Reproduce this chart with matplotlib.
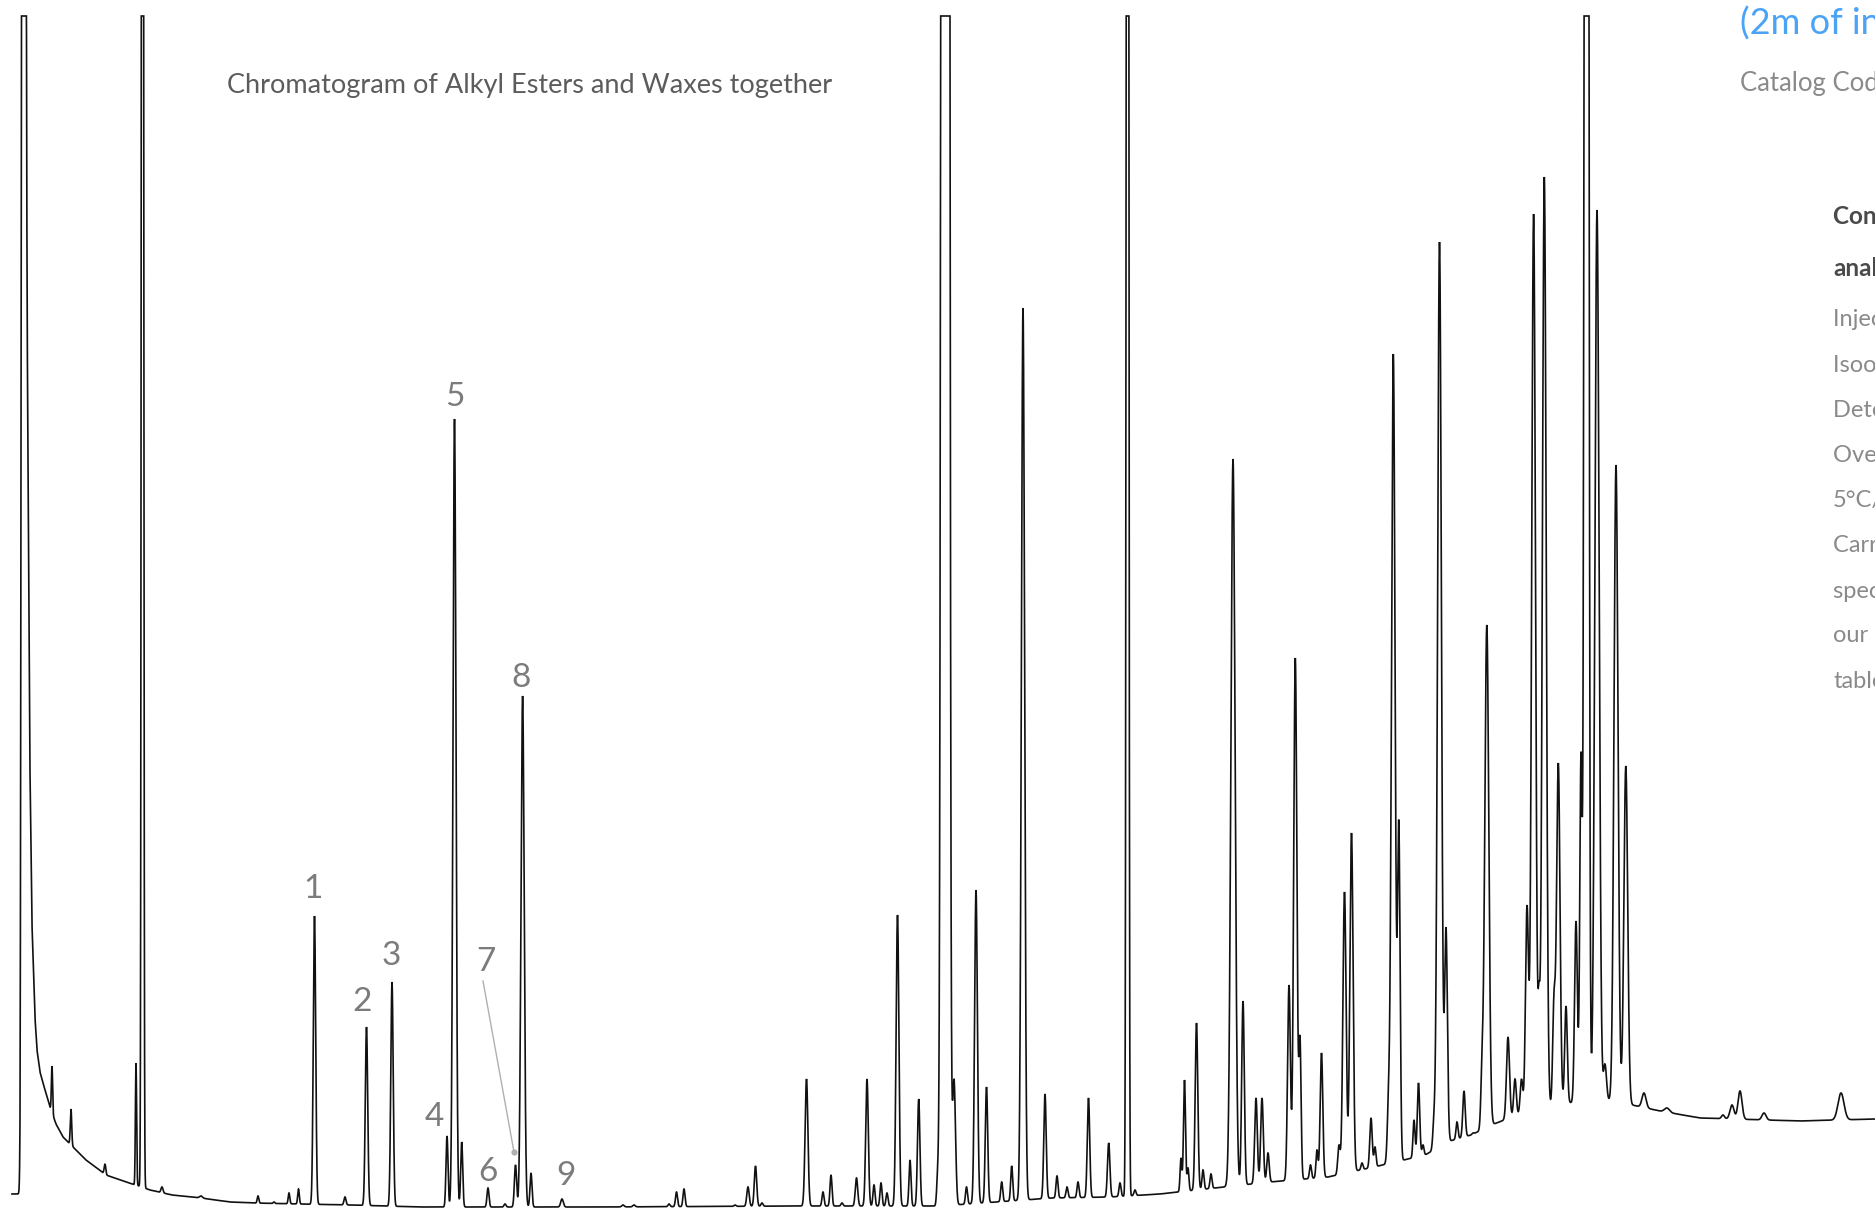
import numpy as np
import matplotlib
matplotlib.use("Agg")
import matplotlib.pyplot as plt

W, H, DPI = 1875, 1209, 100
CLIP = 1193          # detector saturation level (signal units)

# ---- baseline / background (position, signal) ----
base_x = [12, 20, 26, 28, 30, 32, 35, 37, 40, 43, 50, 56, 63, 73, 86, 106, 129, 139,
          150, 172, 201, 230, 255, 300, 350, 420, 600, 800, 940, 1052, 1110, 1160,
          1224, 1270, 1328, 1374, 1425, 1450, 1471, 1494, 1520, 1560, 1600, 1632,
          1660, 1700, 1800, 1875]
base_s = [15, 15, 1000, 746, 438, 284, 191, 159, 137, 126, 102, 85, 72, 62, 49, 34, 26, 23,
          19, 14, 11, 7, 6, 5, 4, 2, 2, 3, 3, 11, 12, 15,
          22, 27, 32, 42, 54, 68, 74, 85, 95, 105, 110, 104,
          98, 91, 88, 90]

# ---- peaks: retention position, apex signal, width ----
peak_rt = [23.5, 52, 71, 105, 136, 142.5, 162, 201, 258, 274, 289, 298.5,
           314.5, 345, 366.5, 392, 447, 454.5, 461.7, 488, 505, 515.5, 522.6, 531,
           562, 623, 634, 669, 676.5, 684, 735, 748, 755.5, 762,
           806.5, 823, 831, 842, 856.5, 867, 874, 881, 887, 897.5, 910, 918.7,
           937.7, 945.3, 954, 966.5, 976, 986.5, 1001.7, 1011.7, 1023,
           1045, 1057, 1067, 1078, 1088.5, 1108.7, 1120, 1127.5, 1135, 1143, 1151,
           1170, 1181, 1184.5, 1188, 1196.5, 1203, 1211,
           1233, 1243, 1256, 1262, 1268, 1289, 1295.3, 1300, 1310.5, 1317, 1321.5,
           1339, 1344.5, 1351.5, 1362, 1371, 1375, 1388.6, 1393.3, 1398.8,
           1414, 1418.5, 1423, 1434, 1439.5, 1446, 1457, 1464, 1473, 1482, 1486.8,
           1508, 1515, 1521.5, 1527, 1533.6, 1539, 1544.3, 1554, 1558.3, 1566,
           1576, 1581, 1586.5, 1597, 1605, 1616, 1625.8, 1644, 1667,
           1723, 1732, 1740, 1764, 1841]
peak_apex = [6000, 143, 100, 45, 146, 4000, 22, 13, 13, 7, 16, 20,
             293, 12, 182, 227, 73, 790, 67, 21, 5, 44, 513, 36,
             10, 4, 4, 5, 17, 20, 4, 22, 43, 6,
             130, 17, 34, 6, 31, 130, 24, 26, 16, 294, 49, 110,
             45, 19000, 130, 22, 319, 122, 27, 43, 901,
             115, 33, 22, 27, 111, 66, 26, 4000, 19, 14, 14,
             13, 51, 129, 41, 186, 39, 35,
             750, 208, 111, 111, 56, 224, 551, 173, 44, 59, 156,
             64, 317, 376, 46, 91, 62, 129, 855, 389,
             89, 126, 64, 99, 967, 282, 87, 118, 76, 158, 584,
             172, 130, 130, 304, 995, 228, 1032, 218, 446, 203,
             288, 457, 4800, 999, 145, 744, 443, 116, 101,
             94, 104, 118, 96, 116]
peak_w = [1.2, 0.6, 0.7, 0.8, 0.6, 0.8, 1.0, 1.5, 0.8, 0.8, 0.8, 0.8,
          1.2, 1.0, 1.2, 1.2, 1.0, 1.5, 1.0, 1.0, 1.0, 1.1, 1.6, 1.0,
          1.3, 1.2, 1.2, 1.0, 1.0, 1.0, 1.0, 1.2, 1.2, 1.0,
          1.4, 1.0, 1.0, 1.0, 1.2, 1.3, 1.0, 1.0, 1.0, 1.4, 1.0, 1.2,
          1.0, 2.0, 1.5, 1.0, 1.4, 1.2, 1.0, 1.0, 1.6,
          1.2, 1.0, 1.0, 1.0, 1.2, 1.2, 1.0, 0.9, 1.0, 1.0, 1.0,
          1.0, 0.9, 1.0, 0.9, 1.3, 1.0, 1.0,
          2.1, 1.3, 1.3, 1.3, 1.2, 1.4, 1.6, 1.1, 1.0, 1.0, 1.3,
          1.2, 1.6, 1.6, 1.0, 1.2, 1.0, 1.3, 1.8, 1.3,
          1.0, 1.2, 1.0, 1.2, 1.9, 1.4, 1.0, 1.2, 1.0, 1.2, 2.0,
          1.5, 1.3, 1.3, 1.5, 1.9, 1.0, 1.9, 1.3, 1.7, 1.3,
          1.4, 1.2, 1.5, 2.1, 1.5, 2.0, 1.9, 2.0, 2.5,
          1.5, 2.0, 2.0, 2.0, 3.0]

# ---- annotations ----
label_text = ["1", "2", "3", "4", "5", "6", "7", "8", "9"]
label_x = [313, 362, 391, 434, 454.5, 488, 486, 521.5, 566]
label_ybase = [898, 1011, 965, 1126, 406, 1181, 971, 687, 1185]   # from top, px

title = "Chromatogram of Alkyl Esters and Waxes together"
side_lines = ["Conditions of", "analysis:", "Injector: split 1:50, 300°C",
              "Isooctane solution", "Detector: FID, 350°C", "Oven: 60°C to 300°C at",
              "5°C/min", "Carrier gas: hydrogen",
              "specifications in", "our catalogue", "table"]
side_y = [216, 269, 320, 366, 410, 456, 500, 545, 591, 636, 682]

# ---------------------------------------------------------------------------
x = np.arange(12, 1875.01, 0.1)
base = np.interp(x, base_x, base_s)

c = np.array(peak_rt, float)
s = np.array(peak_w, float)
target = np.array(peak_apex, float) - np.interp(c, base_x, base_s)
A = np.exp(-0.5 * ((c[:, None] - c[None, :]) / s[None, :]) ** 2)
h = np.clip(np.linalg.solve(A, target), 0, None)

sig = base + (h[None, :] * np.exp(-0.5 * ((x[:, None] - c[None, :]) / s[None, :]) ** 2)).sum(axis=1)
sig = np.minimum(sig, CLIP)

fig = plt.figure(figsize=(W / DPI, H / DPI), dpi=DPI)
ax = fig.add_axes([0, 0, 1, 1])
ax.set_xlim(0, W)
ax.set_ylim(0, H)
ax.axis("off")

ax.plot(x, sig, color="#111111", lw=1.2, solid_joinstyle="miter")

FONT = ["Lato", "DejaVu Sans"]
for t, lx, ly in zip(label_text, label_x, label_ybase):
    ax.text(lx, H - ly, t, ha="center", va="baseline", fontsize=24,
            color="#7c7c7c", family=FONT, fontweight="normal")

# leader line for label 7
ax.plot([483, 514], [H - 981, H - 1152], color="#b0b0b0", lw=1.0)
ax.plot([514], [H - 1152], "o", color="#b0b0b0", ms=4.5, mec="none")

tt = ax.text(227, H - 86, title, ha="left", va="center", fontsize=20,
             color="#5c5c5c", family=FONT)
fig.canvas.draw()
r = fig.canvas.get_renderer()
bw = tt.get_window_extent(r).width
tt.set_fontsize(20 * 607 / bw)

ax.text(1740, H - 24, "(2m of internal diameter)", ha="left", va="center",
        fontsize=26, color="#4aa3f5", family=FONT)
ax.text(1740, H - 83, "Catalog Code: 2012", ha="left", va="center",
        fontsize=18.5, color="#8a8a8a", family=FONT)
for i, (t, yy) in enumerate(zip(side_lines, side_y)):
    bold = i < 2
    ax.text(1833, H - yy, t, ha="left", va="center",
            fontsize=17.5 if bold else 17,
            color="#4a4a4a" if bold else "#8a8a8a", family=FONT,
            fontweight="bold" if bold else "normal")

fig.savefig("out.png", dpi=DPI)
